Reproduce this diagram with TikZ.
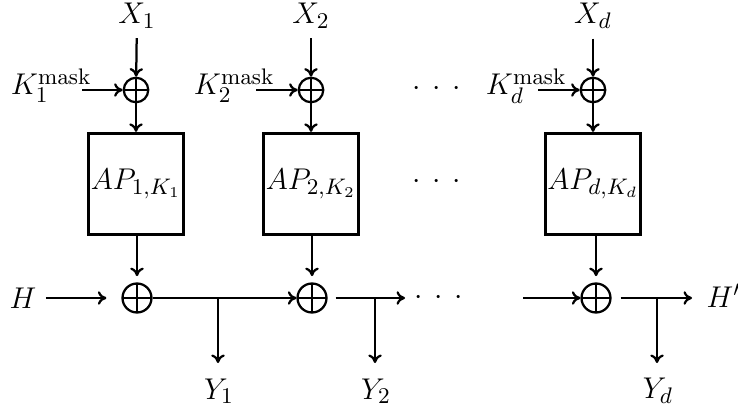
\documentclass[tikz,border=0pt,11pt]{standalone}
\usetikzlibrary{arrows.meta}
\tikzset{
  every node/.style={font=\fontsize{13}{15}\selectfont},
  xorT/.style ={circle, draw, line width=0.9pt, minimum size=9.8pt, inner sep=0pt,
                path picture={\draw[line width=0.9pt]
                  (path picture bounding box.north) -- (path picture bounding box.south)
                  (path picture bounding box.west)  -- (path picture bounding box.east);}},
  xorB/.style ={xorT, minimum size=11.6pt},
  apbox/.style={draw, line width=1.3pt, minimum width=38pt, minimum height=40.4pt, inner sep=0pt,
                font=\fontsize{12.8}{14}\selectfont},
  flow/.style ={-{To[length=3.4pt,width=5.4pt]}, line width=0.9pt},
  kmask/.style={anchor=base east, inner sep=0pt},
  hdots/.style={inner sep=0pt},
}
\newcommand{\threedots}{${\cdot}\mkern7mu{\cdot}\mkern7mu{\cdot}$}

\begin{document}
\begin{tikzpicture}[x=0.4pt, y=-0.4pt]
  \useasboundingbox (0,0) rectangle (738,412);
  % inputs and key masks
  \node (x1) at (137,16) {$X_1$};
  \node (x2) at (311,16) {$X_2$};
  \node (xd) at (593,16) {$X_d$};
  \node[xorT] (xt1) at (136,90) {};
  \node[xorT] (xt2) at (311,90) {};
  \node[xorT] (xtd) at (593,90) {};
  \node[kmask] (km1) at (92,95) {$K_1^{\mathrm{mask}}$};
  \node[kmask] (km2) at (275,95) {$K_2^{\mathrm{mask}}$};
  \node[kmask] (kmd) at (567,95) {$K_d^{\mathrm{mask}}$};
  \coordinate (k1s) at (82,90);
  \coordinate (k2s) at (256,90);
  \coordinate (kds) at (538,90);
  \draw[flow] (x1) -- (xt1);  \draw[flow] (k1s) -- (xt1);
  \draw[flow] (x2) -- (xt2);  \draw[flow] (k2s) -- (xt2);
  \draw[flow] (xd) -- (xtd);  \draw[flow] (kds) -- (xtd);
  \node[hdots] (dtop) at (437,89) {\threedots};
  % permutation boxes
  \node[apbox] (ap1) at (136,184) {$AP_{1,K_1}$};
  \node[apbox] (ap2) at (311,184) {$AP_{2,K_2}$};
  \node[apbox] (apd) at (593,184) {$AP_{d,K_d}$};
  \node[hdots] (dmid) at (437,182) {\threedots};
  \draw[flow] (xt1) -- (ap1);
  \draw[flow] (xt2) -- (ap2);
  \draw[flow] (xtd) -- (apd);
  % chaining
  \node (h) at (23,298) {$H$};
  \node[xorB] (xb1) at (137,298) {};
  \node[xorB] (xb2) at (312,298) {};
  \node[xorB] (xbd) at (596,298) {};
  \node[hdots] (dbot) at (439,298) {\threedots};
  \node[anchor=base west] (hp) at (697,307) {$H'$};
  \draw[flow, shorten >=2.5pt] (ap1.south -| xb1) -- (xb1);
  \draw[flow, shorten >=2.5pt] (ap2.south -| xb2) -- (xb2);
  \draw[flow, shorten >=2.5pt] (apd.south -| xbd) -- (xbd);
  \coordinate (b1) at (218,298);
  \coordinate (b2) at (375,298);
  \coordinate (bd) at (657,298);
  \coordinate (c2) at (405,298);
  \coordinate (cd) at (523,298);
  \coordinate (cout) at (692,298);
  \draw[flow, shorten >=6pt] (h) -- (xb1);
  \draw[flow] (xb1) -- (xb2);
  \draw[flow, shorten <=3.2pt] (xb2) -- (c2);
  \draw[flow] (cd) -- (xbd);
  \draw[flow, shorten <=3.6pt] (xbd) -- (cout);
  % outputs
  \node (y1) at (219,391) {$Y_1$};
  \node (y2) at (376,391) {$Y_2$};
  \node (yd) at (658,391) {$Y_d$};
  \draw[flow] (b1) -- (b1 |- 0,363);
  \draw[flow] (b2) -- (b2 |- 0,363);
  \draw[flow] (bd) -- (bd |- 0,363);
\end{tikzpicture}
\end{document}
